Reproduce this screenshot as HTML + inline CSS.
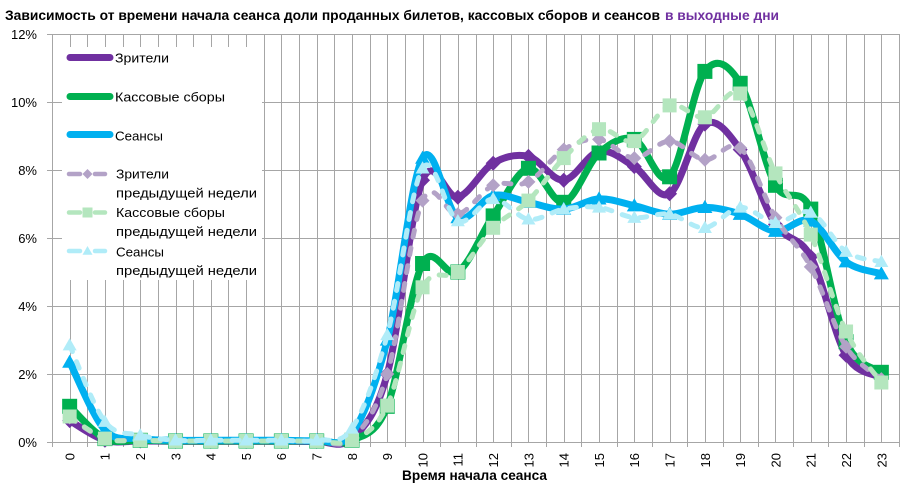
<!DOCTYPE html>
<html><head><meta charset="utf-8">
<style>html,body{margin:0;padding:0;background:#fff;}svg{display:block}</style>
</head><body>
<svg id="c" width="917" height="486" viewBox="0 0 917 486" xmlns="http://www.w3.org/2000/svg" font-family="'Liberation Sans', sans-serif">
<rect x="0" y="0" width="917" height="486" fill="#fff"/>
<g id="grid" stroke="#a6a6a6" stroke-width="1" shape-rendering="crispEdges"></g>
<g id="series"></g>
<rect x="62" y="47" width="200" height="233" fill="#fff"/>
<g id="legend"></g>
<g font-size="13" fill="#000">
<text x="115" y="62.5" textLength="54" lengthAdjust="spacingAndGlyphs">Зрители</text>
<text x="115" y="101.5" textLength="110" lengthAdjust="spacingAndGlyphs">Кассовые сборы</text>
<text x="115" y="140.5" textLength="48" lengthAdjust="spacingAndGlyphs">Сеансы</text>
<text x="116" y="178.3" textLength="53" lengthAdjust="spacingAndGlyphs">Зрители</text>
<text x="116" y="197.3" textLength="141" lengthAdjust="spacingAndGlyphs">предыдущей недели</text>
<text x="116" y="217" textLength="109" lengthAdjust="spacingAndGlyphs">Кассовые сборы</text>
<text x="116" y="236" textLength="141" lengthAdjust="spacingAndGlyphs">предыдущей недели</text>
<text x="116" y="256.5" textLength="48" lengthAdjust="spacingAndGlyphs">Сеансы</text>
<text x="116" y="275" textLength="141" lengthAdjust="spacingAndGlyphs">предыдущей недели</text>
</g>
<g font-size="13" fill="#000" text-anchor="end">
<text x="37" y="39">12%</text>
<text x="37" y="107">10%</text>
<text x="37" y="175">8%</text>
<text x="37" y="243">6%</text>
<text x="37" y="311">4%</text>
<text x="37" y="379">2%</text>
<text x="37" y="447">0%</text>
</g>
<g font-size="13" fill="#000" text-anchor="end">
<text transform="translate(74.4,453) rotate(-90)">0</text>
<text transform="translate(109.7,453) rotate(-90)">1</text>
<text transform="translate(145.0,453) rotate(-90)">2</text>
<text transform="translate(180.3,453) rotate(-90)">3</text>
<text transform="translate(215.6,453) rotate(-90)">4</text>
<text transform="translate(250.9,453) rotate(-90)">5</text>
<text transform="translate(286.2,453) rotate(-90)">6</text>
<text transform="translate(321.5,453) rotate(-90)">7</text>
<text transform="translate(356.8,453) rotate(-90)">8</text>
<text transform="translate(392.1,453) rotate(-90)">9</text>
<text transform="translate(427.4,453) rotate(-90)">10</text>
<text transform="translate(462.7,453) rotate(-90)">11</text>
<text transform="translate(498.0,453) rotate(-90)">12</text>
<text transform="translate(533.3,453) rotate(-90)">13</text>
<text transform="translate(568.6,453) rotate(-90)">14</text>
<text transform="translate(603.9,453) rotate(-90)">15</text>
<text transform="translate(639.2,453) rotate(-90)">16</text>
<text transform="translate(674.5,453) rotate(-90)">17</text>
<text transform="translate(709.8,453) rotate(-90)">18</text>
<text transform="translate(745.1,453) rotate(-90)">19</text>
<text transform="translate(780.4,453) rotate(-90)">20</text>
<text transform="translate(815.7,453) rotate(-90)">21</text>
<text transform="translate(851.0,453) rotate(-90)">22</text>
<text transform="translate(886.3,453) rotate(-90)">23</text>
</g>
<text x="402" y="480" font-size="13.5" font-weight="bold" fill="#000" textLength="145" lengthAdjust="spacingAndGlyphs">Время начала сеанса</text>
<text x="5" y="20" font-size="13.5" font-weight="bold" fill="#000" textLength="655" lengthAdjust="spacingAndGlyphs">Зависимость от времени начала сеанса доли проданных билетов, кассовых сборов и сеансов</text>
<text x="665" y="20" font-size="13.5" font-weight="bold" fill="#7030a0" textLength="114" lengthAdjust="spacingAndGlyphs">в выходные дни</text>
</svg>
<script>
(function(){
var NS='http://www.w3.org/2000/svg';
function el(tag,attrs,parent){var e=document.createElementNS(NS,tag);for(var k in attrs)e.setAttribute(k,attrs[k]);parent.appendChild(e);return e;}
var grid=document.getElementById('grid');
var L=52,R=899,cw=(R-L)/24;
function X(i){return L+cw*(i+0.5);}
function Y(v){return 442-34*v;}
var d='';
for(var k=0;k<=48;k++){var x=Math.round(L+k*cw/2)+0.5;d+='M'+x+',34V442';}
for(var j=0;j<=6;j++){var y=442-68*j+0.5;d+='M47,'+y+'H'+R;}
for(var k=0;k<=24;k++){var x=Math.round(L+k*cw)+0.5;d+='M'+x+',442V447';}
el('path',{d:d,fill:'none'},grid);

var S=[
 {c:'#7030a0',w:7,m:'d',s:7.5,dash:null,v:[0.63,0.05,0.03,0.02,0.02,0.02,0.02,0.02,0.1,2.0,7.7,7.2,8.2,8.4,7.7,8.55,8.1,7.3,9.35,8.6,6.4,5.45,2.55,1.9]},
 {c:'#00b050',w:7,m:'s',s:7.5,dash:null,v:[1.05,0.1,0.05,0.03,0.03,0.03,0.03,0.03,0.05,1.05,5.25,5.0,6.65,8.05,7.05,8.5,8.9,7.8,10.9,10.55,7.55,6.85,2.95,2.05]},
 {c:'#00b0f0',w:7,m:'t',s:7.5,dash:null,v:[2.35,0.35,0.1,0.05,0.05,0.05,0.05,0.05,0.25,3.0,8.35,6.6,7.25,7.05,6.85,7.15,6.95,6.7,6.9,6.7,6.2,6.5,5.3,4.95]},
 {c:'#b3a2c7',w:5,m:'d',s:7,dash:'7 11',v:[0.72,0.1,0.05,0.03,0.03,0.03,0.03,0.03,0.1,2.0,7.1,6.7,7.55,7.65,8.6,8.9,8.35,8.85,8.3,8.65,6.6,5.15,2.8,1.85]},
 {c:'#b4e6be',w:5,m:'s',s:7,dash:'7 11',v:[0.75,0.1,0.05,0.03,0.03,0.03,0.03,0.03,0.05,1.07,4.55,5.0,6.3,7.1,8.35,9.2,8.85,9.9,9.55,10.25,7.9,6.1,3.25,1.75]},
 {c:'#b0ecf8',w:5,m:'t',s:7,dash:'7 11',v:[2.85,0.6,0.2,0.05,0.05,0.05,0.05,0.05,0.4,3.15,8.05,6.5,7.15,6.55,6.85,6.9,6.6,6.7,6.3,6.9,6.45,6.75,5.6,5.3]}
];
function marker(g,type,x,y,s,c){
 if(type==='d'){el('polygon',{points:[x,y-s,x+s,y,x,y+s,x-s,y].join(','),fill:c},g);}
 else if(type==='s'){el('rect',{x:x-s,y:y-s,width:2*s,height:2*s,fill:c},g);}
 else {el('polygon',{points:[x,y-s,x+s,y+s*0.75,x-s,y+s*0.75].join(','),fill:c},g);}
}
var sg=document.getElementById('series');
S.forEach(function(se){
 var p=se.v.map(function(v,i){return [X(i),Y(v)];});
 var n=p.length,t=1/6;
 var dd='M'+p[0][0].toFixed(2)+','+p[0][1].toFixed(2);
 for(var i=0;i<n-1;i++){
  var p0=p[Math.max(i-1,0)],p1=p[i],p2=p[i+1],p3=p[Math.min(i+2,n-1)];
  var c1x=p1[0]+(p2[0]-p0[0])*t,c1y=p1[1]+(p2[1]-p0[1])*t;
  var c2x=p2[0]-(p3[0]-p1[0])*t,c2y=p2[1]-(p3[1]-p1[1])*t;
  dd+='C'+c1x.toFixed(2)+','+c1y.toFixed(2)+' '+c2x.toFixed(2)+','+c2y.toFixed(2)+' '+p2[0].toFixed(2)+','+p2[1].toFixed(2);
 }
 var a={d:dd,fill:'none',stroke:se.c,'stroke-width':se.w,'stroke-linejoin':'round','stroke-linecap':'round'};
 if(se.dash)a['stroke-dasharray']=se.dash;
 el('path',a,sg);
 p.forEach(function(q){marker(sg,se.m,q[0],q[1],se.s,se.c);});
});
var lg=document.getElementById('legend');
var mains=[[57.5,0],[96.5,1],[134.5,2]];
mains.forEach(function(m){var se=S[m[1]];
 el('line',{x1:70,y1:m[0],x2:110,y2:m[0],stroke:se.c,'stroke-width':7,'stroke-linecap':'round'},lg);
 marker(lg,se.m,90,m[0],3,se.c);
});
var prevs=[[174,3],[212.5,4],[251,5]];
prevs.forEach(function(m){var se=S[m[1]];
 el('line',{x1:69,y1:m[0],x2:80,y2:m[0],stroke:se.c,'stroke-width':4.5,'stroke-linecap':'round'},lg);
 el('line',{x1:95,y1:m[0],x2:105,y2:m[0],stroke:se.c,'stroke-width':4.5,'stroke-linecap':'round'},lg);
 marker(lg,se.m,87.5,m[0],5,se.c);
});
})();
</script>
</body></html>
